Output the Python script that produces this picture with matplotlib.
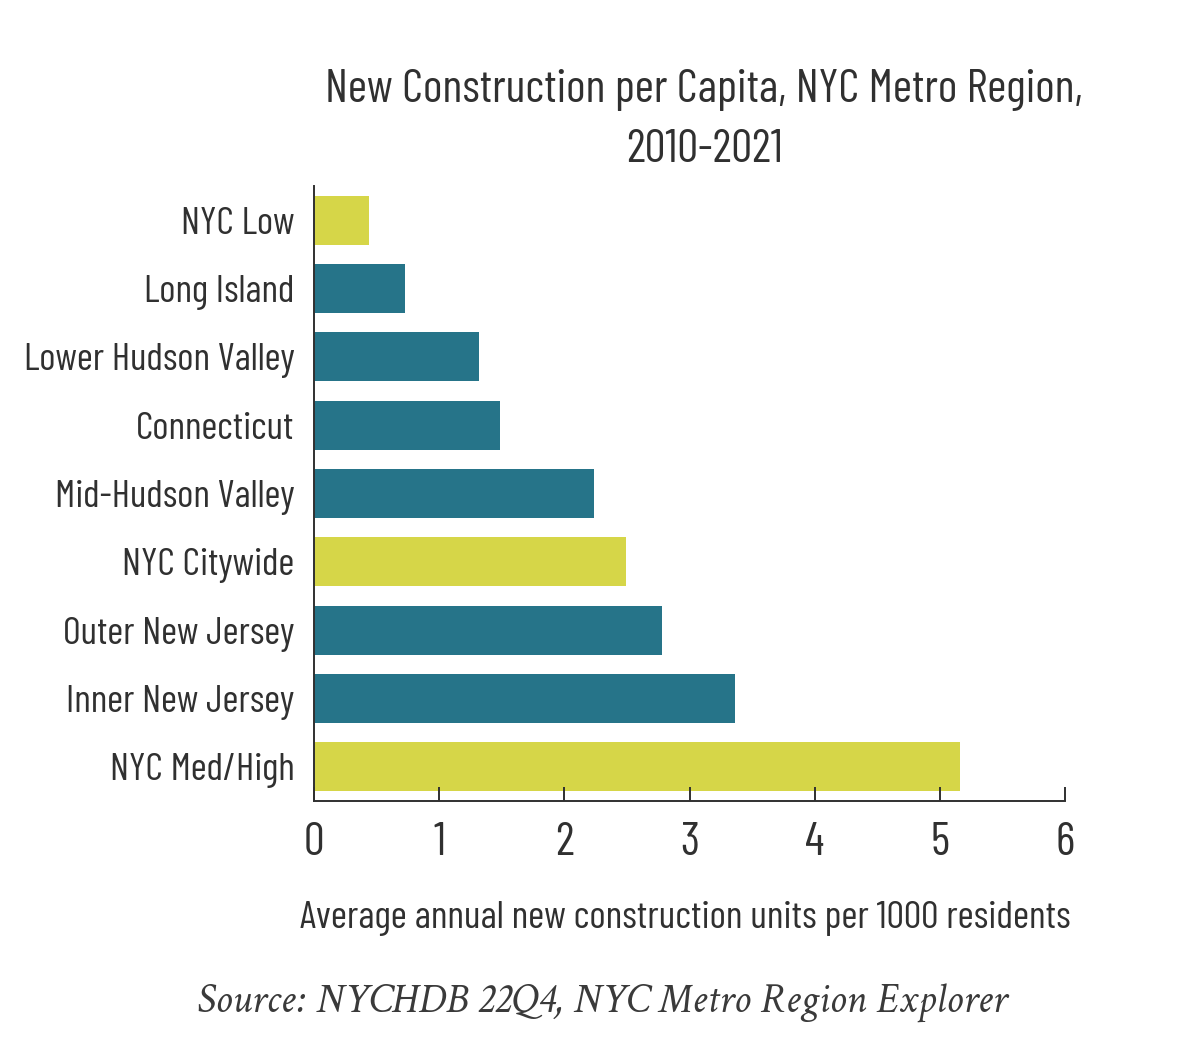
import os
import matplotlib
matplotlib.use("Agg")
import matplotlib.pyplot as plt
from matplotlib import font_manager
from matplotlib.font_manager import FontProperties

# Data
regions = ["NYC Low", "Long Island", "Lower Hudson Valley", "Connecticut",
           "Mid-Hudson Valley", "NYC Citywide", "Outer New Jersey",
           "Inner New Jersey", "NYC Med/High"]
units_per_1000 = [0.44, 0.73, 1.32, 1.49, 2.24, 2.49, 2.78, 3.36, 5.16]
is_nyc = [True, False, False, False, False, True, False, False, True]
x_ticks = [0, 1, 2, 3, 4, 5, 6]

title_lines = ["New Construction per Capita, NYC Metro Region,", "2010-2021"]
x_label = "Average annual new construction units per 1000 residents"
source = "Source: NYCHDB 22Q4, NYC Metro Region Explorer"

TEAL = "#267489"
LIME = "#D6D648"
TEXT = "#303030"


def find_font(candidates, fallback_family, style="normal"):
    paths = {os.path.basename(f.fname): f.fname for f in font_manager.fontManager.ttflist}
    for c in candidates:
        if c in paths:
            return FontProperties(fname=paths[c])
    return FontProperties(family=fallback_family, style=style)


cond = find_font(["BarlowCondensed-Regular.ttf", "AsapCondensed-Regular.ttf"], "DejaVu Sans")
serif_it = find_font(["CrimsonText-Italic.ttf", "EBGaramond-Italic[wght].ttf"],
                     "Liberation Serif", style="italic")


def fp(base, size):
    p = base.copy()
    p.set_size(size)
    return p


fig = plt.figure(figsize=(12, 10.59), dpi=100)
renderer = fig.canvas.get_renderer()
W, H = 1200, 1059


def fit_size(text, base, target_px, start=30):
    # scale font size so the text spans target_px wide
    t = fig.text(0, 0, text, fontproperties=fp(base, start))
    w = t.get_window_extent(renderer).width
    t.remove()
    return start * target_px / w


ax = fig.add_axes([314 / W, 1 - 801 / H, (1065 - 314) / W, (801 - 186) / H])

colors = [LIME if n else TEAL for n in is_nyc]
ax.barh(range(len(regions)), units_per_1000, height=0.72, color=colors)

ax.set_ylim(len(regions) - 0.5, -0.5)
ax.set_xlim(0, 6)

ylab_size = fit_size("Lower Hudson Valley", cond, 271)
ax.set_yticks(range(len(regions)))
ax.set_yticklabels(regions, fontproperties=fp(cond, ylab_size), color=TEXT)
ax.set_xticks(x_ticks)
ax.set_xticklabels([str(t) for t in x_ticks], fontproperties=fp(cond, ylab_size * 1.2),
                   color=TEXT)

ax.tick_params(axis="y", length=0, pad=14)
ax.tick_params(axis="x", direction="in", length=10, width=1.4, color=TEXT, pad=15)

for side in ["top", "right"]:
    ax.spines[side].set_visible(False)
for side in ["left", "bottom"]:
    ax.spines[side].set_linewidth(1.4)
    ax.spines[side].set_color(TEXT)

title_size = fit_size(title_lines[0], cond, 758)
fig.text(704 / W, 1 - 90 / H, title_lines[0], ha="center", va="center",
         fontproperties=fp(cond, title_size), color=TEXT)
fig.text(704 / W, 1 - 150 / H, title_lines[1], ha="center", va="center",
         fontproperties=fp(cond, title_size), color=TEXT)

xl_size = fit_size(x_label, cond, 770)
fig.text(685 / W, 1 - 918 / H, x_label, ha="center", va="center",
         fontproperties=fp(cond, xl_size), color=TEXT)

src_size = fit_size(source, serif_it, 810)
fig.text(602 / W, 1 - 1003 / H, source, ha="center", va="center",
         fontproperties=fp(serif_it, src_size), color="#3a3a3a")

fig.savefig("out.png", dpi=100, facecolor="white")
